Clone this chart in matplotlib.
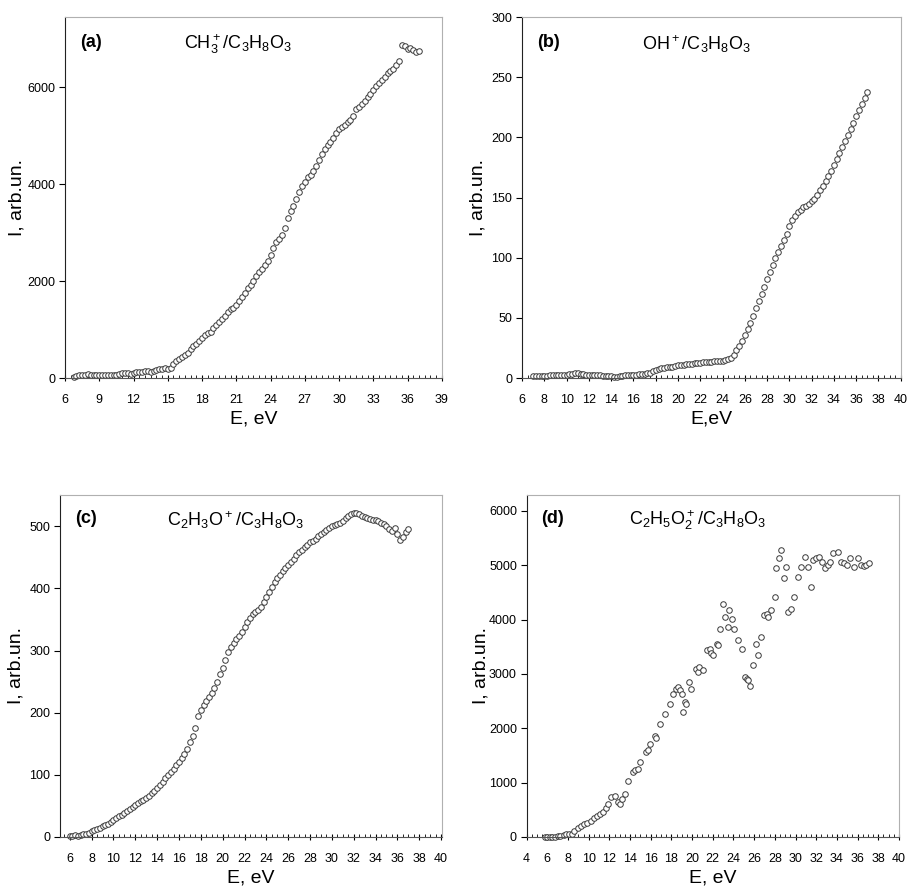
import matplotlib
matplotlib.use("Agg")
import matplotlib.pyplot as plt
from matplotlib.ticker import MultipleLocator

plt.rcParams['font.family'] = ['Liberation Sans Narrow', 'Liberation Sans', 'DejaVu Sans']
plt.rcParams['mathtext.default'] = 'regular'

# (a) CH3+ / C3H8O3
e_a = [6.75, 7.0, 7.25, 7.5, 7.75, 8.0, 8.25, 8.5, 8.75, 9.0, 9.25, 9.5, 9.75, 10.0, 10.25, 10.5,
       10.75, 11.0, 11.25, 11.5, 11.75, 12.0, 12.25, 12.5, 12.75, 13.0, 13.25, 13.5, 13.75, 14.0,
       14.25, 14.5, 14.75, 15.0, 15.25, 15.5, 15.75, 16.0, 16.25, 16.5, 16.75, 17.0, 17.25, 17.5,
       17.75, 18.0, 18.25, 18.5, 18.75, 19.0, 19.25, 19.5, 19.75, 20.0, 20.25, 20.5, 20.75, 21.0,
       21.25, 21.5, 21.75, 22.0, 22.25, 22.5, 22.75, 23.0, 23.25, 23.5, 23.75, 24.0, 24.25, 24.5,
       24.75, 25.0, 25.25, 25.5, 25.75, 26.0, 26.25, 26.5, 26.75, 27.0, 27.25, 27.5, 27.75, 28.0,
       28.25, 28.5, 28.75, 29.0, 29.25, 29.5, 29.75, 30.0, 30.25, 30.5, 30.75, 31.0, 31.25, 31.5,
       31.75, 32.0, 32.25, 32.5, 32.75, 33.0, 33.25, 33.5, 33.75, 34.0, 34.25, 34.5, 34.75, 35.0,
       35.25, 35.5, 35.75, 36.0, 36.25, 36.5, 36.75, 37.0]
i_a = [20, 45, 55, 60, 70, 75, 70, 65, 60, 55, 60, 55, 60, 65, 60, 70,
       85, 105, 110, 100, 95, 110, 120, 130, 135, 150, 145, 130, 140, 160,
       180, 190, 200, 195, 210, 290, 360, 400, 430, 470, 520, 600, 660, 700,
       760, 820, 880, 930, 960, 1040, 1100, 1160, 1210, 1280, 1360, 1420, 1450, 1500,
       1600, 1680, 1760, 1850, 1930, 2000, 2100, 2180, 2260, 2340, 2420, 2530, 2680, 2800,
       2880, 2950, 3100, 3300, 3450, 3550, 3700, 3850, 3960, 4050, 4150, 4200, 4280, 4380,
       4500, 4620, 4720, 4800, 4880, 4960, 5050, 5130, 5180, 5220, 5280, 5330, 5400, 5560,
       5600, 5650, 5720, 5800, 5870, 5950, 6020, 6080, 6150, 6220, 6300, 6340, 6380, 6450,
       6550, 6880, 6850, 6780, 6820, 6760, 6720, 6740]

# (b) OH+ / C3H8O3
e_b = [7.0, 7.25, 7.5, 7.75, 8.0, 8.25, 8.5, 8.75, 9.0, 9.25, 9.5, 9.75, 10.0, 10.25, 10.5, 10.75,
       11.0, 11.25, 11.5, 11.75, 12.0, 12.25, 12.5, 12.75, 13.0, 13.25, 13.5, 13.75, 14.0, 14.25,
       14.5, 14.75, 15.0, 15.25, 15.5, 15.75, 16.0, 16.25, 16.5, 16.75, 17.0, 17.25, 17.5, 17.75,
       18.0, 18.25, 18.5, 18.75, 19.0, 19.25, 19.5, 19.75, 20.0, 20.25, 20.5, 20.75, 21.0, 21.25,
       21.5, 21.75, 22.0, 22.25, 22.5, 22.75, 23.0, 23.25, 23.5, 23.75, 24.0, 24.25, 24.5, 24.75,
       25.0, 25.25, 25.5, 25.75, 26.0, 26.25, 26.5, 26.75, 27.0, 27.25, 27.5, 27.75, 28.0, 28.25,
       28.5, 28.75, 29.0, 29.25, 29.5, 29.75, 30.0, 30.25, 30.5, 30.75, 31.0, 31.25, 31.5, 31.75,
       32.0, 32.25, 32.5, 32.75, 33.0, 33.25, 33.5, 33.75, 34.0, 34.25, 34.5, 34.75, 35.0, 35.25,
       35.5, 35.75, 36.0, 36.25, 36.5, 36.75, 37.0]
i_b = [1.5, 1.5, 1.8, 2, 2, 2, 2.2, 2.2, 2.3, 2.5, 2.5, 3, 3, 3.5, 3.8, 4,
       4, 3.8, 3.5, 3, 2.5, 2.5, 2.2, 2.3, 2.2, 2.0, 2.0, 1.8, 1.5, 1.2,
       0.8, 1.5, 2, 2.2, 2.5, 2.8, 3, 3, 3.2, 3.5, 3.8, 4, 4.5, 5.5,
       7, 7.5, 8, 8.5, 9, 9.3, 9.6, 10, 10.5, 10.8, 11.2, 11.5, 11.8, 12,
       12.2, 12.5, 12.8, 13, 13.2, 13.5, 13.8, 14, 14.2, 14.5, 14.5, 14.8, 15.5, 17,
       19, 23, 27, 31, 36, 41, 46, 52, 58, 64, 70, 76, 82, 88,
       94, 100, 105, 110, 115, 120, 126, 131, 135, 138, 140, 142, 143, 145,
       147, 149, 152, 156, 160, 164, 168, 172, 177, 182, 187, 192, 197, 202,
       207, 212, 218, 223, 228, 233, 238]

# (c) C2H3O+ / C3H8O3
e_c = [6.0, 6.25, 6.5, 6.75, 7.0, 7.25, 7.5, 7.75, 8.0, 8.25, 8.5, 8.75, 9.0, 9.25, 9.5, 9.75,
       10.0, 10.25, 10.5, 10.75, 11.0, 11.25, 11.5, 11.75, 12.0, 12.25, 12.5, 12.75, 13.0, 13.25,
       13.5, 13.75, 14.0, 14.25, 14.5, 14.75, 15.0, 15.25, 15.5, 15.75, 16.0, 16.25, 16.5, 16.75,
       17.0, 17.25, 17.5, 17.75, 18.0, 18.25, 18.5, 18.75, 19.0, 19.25, 19.5, 19.75, 20.0, 20.25,
       20.5, 20.75, 21.0, 21.25, 21.5, 21.75, 22.0, 22.25, 22.5, 22.75, 23.0, 23.25, 23.5, 23.75,
       24.0, 24.25, 24.5, 24.75, 25.0, 25.25, 25.5, 25.75, 26.0, 26.25, 26.5, 26.75, 27.0, 27.25,
       27.5, 27.75, 28.0, 28.25, 28.5, 28.75, 29.0, 29.25, 29.5, 29.75, 30.0, 30.25, 30.5, 30.75,
       31.0, 31.25, 31.5, 31.75, 32.0, 32.25, 32.5, 32.75, 33.0, 33.25, 33.5, 33.75, 34.0, 34.25,
       34.5, 34.75, 35.0, 35.25, 35.5, 35.75, 36.0, 36.25, 36.5, 36.75, 37.0]
i_c = [2, 2, 3, 2, 3, 4, 5, 7, 9, 11, 13, 15, 17, 19, 21, 24,
       27, 30, 33, 36, 39, 42, 45, 48, 51, 54, 57, 60, 63, 66,
       70, 74, 78, 83, 88, 94, 100, 105, 110, 115, 121, 127, 134, 142,
       152, 162, 175, 195, 205, 212, 218, 225, 232, 240, 250, 262, 272, 285,
       298, 306, 312, 318, 324, 330, 338, 346, 352, 358, 362, 366, 370, 378,
       386, 394, 402, 410, 416, 422, 428, 433, 438, 443, 448, 453, 458, 462,
       466, 470, 474, 477, 480, 484, 488, 491, 494, 497, 500, 502, 504, 506,
       509, 513, 516, 520, 522, 521, 519, 517, 515, 513, 512, 510, 510, 508,
       506, 503, 500, 496, 492, 498, 488, 478, 482, 490, 495]

# (d) C2H5O2+ / C3H8O3
e_d = [5.75, 6.0, 6.25, 6.5, 6.75, 7.0, 7.25, 7.6, 7.85, 8.1, 8.35, 8.6, 9.0, 9.3, 9.5, 9.8,
       10.2, 10.5, 10.8, 11.1, 11.4, 11.7, 11.9, 12.2, 12.5, 12.8, 13.0, 13.2, 13.5, 13.8,
       14.3, 14.5, 14.8, 15.0, 15.5, 15.7, 15.9, 16.4, 16.5, 16.9, 17.4, 17.9, 18.2, 18.4,
       18.6, 18.8, 19.0, 19.1, 19.3, 19.4, 19.7, 19.9, 20.4, 20.6, 20.7, 21.1, 21.4, 21.7,
       21.8, 22.0, 22.4, 22.5, 22.7, 23.0, 23.2, 23.5, 23.6, 23.9, 24.1, 24.4, 24.8, 25.1,
       25.3, 25.4, 25.6, 25.9, 26.2, 26.4, 26.7, 27.0, 27.2, 27.3, 27.6, 28.0, 28.1, 28.4,
       28.6, 28.9, 29.1, 29.3, 29.6, 29.9, 30.2, 30.5, 30.9, 31.2, 31.5, 31.7, 32.0, 32.3,
       32.6, 32.9, 33.1, 33.3, 33.6, 34.1, 34.4, 34.7, 35.0, 35.3, 35.7, 36.0, 36.3, 36.6,
       36.8, 37.1]
i_d = [0, 0, 0, 0, 5, 10, 15, 37, 45, 50, 60, 110, 172, 200, 234, 260,
       295, 340, 388, 420, 450, 540, 603, 726, 757, 634, 603, 700, 788, 1034,
       1188, 1230, 1249, 1372, 1557, 1600, 1711, 1865, 1820, 2080, 2265, 2449, 2634, 2720,
       2757, 2695, 2634, 2295, 2480, 2440, 2849, 2726, 3095, 3040, 3126, 3065, 3434, 3465,
       3380, 3342, 3557, 3540, 3834, 4295, 4049, 3865, 4172, 4018, 3834, 3618, 3465, 2942,
       2900, 2880, 2769, 3157, 3557, 3342, 3680, 4080, 4100, 4049, 4172, 4418, 4942, 5126,
       5280, 4757, 4972, 4141, 4203, 4418, 4788, 4972, 5157, 4972, 4603, 5095, 5126, 5157,
       5064, 4942, 5000, 5064, 5218, 5249, 5064, 5034, 5003, 5126, 4972, 5126, 5003, 4990,
       5003, 5034]


def draw_panel(ax, e, i, tag, formula, xlabel, xlim, xstep, ylim, ystep, ylab_x):
    ax.plot(e, i, linestyle="none", marker="o", markersize=4.0,
            markerfacecolor="white", markeredgecolor="#3a3a3a",
            markeredgewidth=0.7, clip_on=False)
    ax.set_xlim(*xlim)
    ax.set_ylim(*ylim)
    ax.xaxis.set_major_locator(MultipleLocator(xstep))
    ax.xaxis.set_minor_locator(MultipleLocator(0.5))
    ax.yaxis.set_major_locator(MultipleLocator(ystep))
    ax.tick_params(axis="x", which="major", direction="inout", length=5, width=0.8, labelsize=9, pad=9)
    ax.tick_params(axis="x", which="minor", direction="in", length=2.5, width=0.6)
    ax.tick_params(axis="y", which="major", direction="out", length=4, width=0.8, labelsize=9, pad=3)
    ax.spines["top"].set_color("#b0b0b0")
    ax.spines["right"].set_color("#b0b0b0")
    ax.spines["left"].set_color("#222222")
    ax.spines["bottom"].set_color("#555555")
    ax.set_xlabel(xlabel, fontsize=14, labelpad=3)
    ax.set_ylabel("I, arb.un.", fontsize=14)
    ax.yaxis.set_label_coords(ylab_x, 0.5)
    ax.text(0.04, 0.93, tag, transform=ax.transAxes, fontsize=13, fontweight="bold",
            ha="left", va="center")
    ax.text(0.46, 0.925, formula, transform=ax.transAxes, fontsize=13,
            ha="center", va="center")


fig = plt.figure(figsize=(9.08, 8.96), dpi=100)

ax_a = fig.add_axes([0.0716, 0.578, 0.415, 0.403])
ax_b = fig.add_axes([0.575, 0.578, 0.417, 0.403])
ax_c = fig.add_axes([0.066, 0.066, 0.421, 0.382])
ax_d = fig.add_axes([0.580, 0.066, 0.410, 0.382])

draw_panel(ax_a, e_a, i_a, "(a)", r"$CH_3^+/C_3H_8O_3$", "E, eV", (6, 39), 3, (0, 7450), 2000, -0.105)
draw_panel(ax_b, e_b, i_b, "(b)", r"$OH^+/C_3H_8O_3$", "E,eV", (6, 40), 2, (0, 300), 50, -0.093)
draw_panel(ax_c, e_c, i_c, "(c)", r"$C_2H_3O^+/C_3H_8O_3$", "E, eV", (5.1, 40.1), 2, (0, 551), 100, -0.092)
draw_panel(ax_d, e_d, i_d, "(d)", r"$C_2H_5O_2^+/C_3H_8O_3$", "E, eV", (4, 40), 2, (0, 6300), 1000, -0.10)

fig.savefig("out.png", dpi=100)
